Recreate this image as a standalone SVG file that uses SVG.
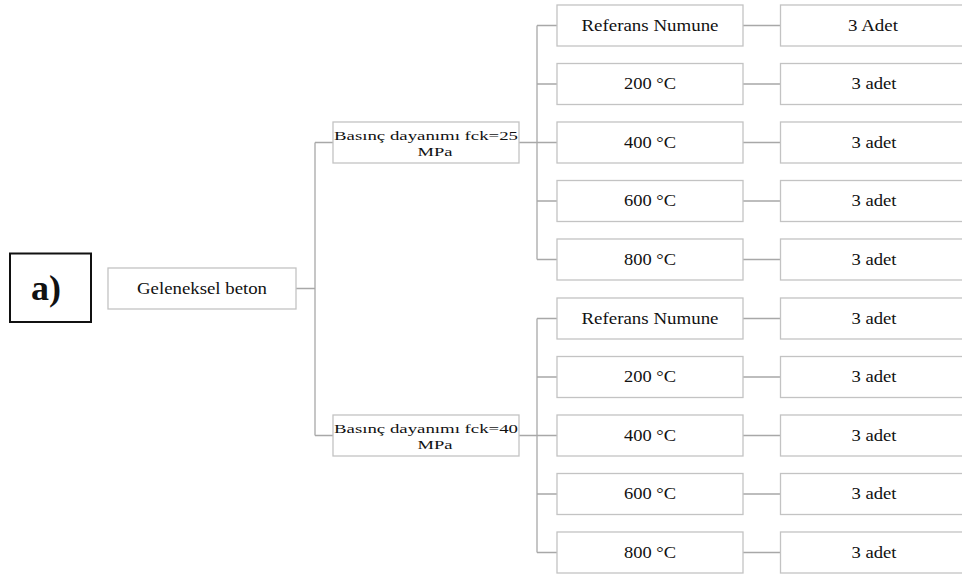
<svg xmlns="http://www.w3.org/2000/svg" width="962" height="576" viewBox="0 0 962 576">
<style>
.box{fill:#fff;stroke:#c3c3c3;stroke-width:1.3}
.t{font-family:"Liberation Serif","Times New Roman",serif;font-size:16px;fill:#111;text-anchor:middle}
.s{font-size:13.5px}
.c{fill:none;stroke:#a8a8a8;stroke-width:1.3}
</style>
<rect width="962" height="576" fill="#fff"/>
<g id="label-a">
<rect x="10" y="253.5" width="81" height="68.5" fill="#fff" stroke="#111" stroke-width="2"/>
<text x="46" y="300" font-family="Liberation Serif,serif" font-weight="bold" font-size="36" text-anchor="middle" fill="#111">a)</text>
</g>
<g id="connectors">
<path class="c" d="M296 288.5H315M315 142.5V435.5M315 142.5H333M315 435.5H333"/>
<path class="c" d="M519 142.5H557M537 25.5V259.5M537 25.5H557M537 84H557M537 201H557M537 259.5H557"/>
<path class="c" d="M519 435.5H557M537 318.5V552.5M537 318.5H557M537 377H557M537 494H557M537 552.5H557"/>
<path class="c" d="M743 25.5H780M743 84H780M743 142.5H780M743 201H780M743 259.5H780M743 318.5H780M743 377H780M743 435.5H780M743 494H780M743 552.5H780"/>
</g>
<g id="n-geleneksel"><rect class="box" x="108" y="268" width="188" height="41"/><text class="t" x="202" y="293.5" textLength="130" lengthAdjust="spacingAndGlyphs">Geleneksel beton</text></g>
<g id="n-fck25"><rect class="box" x="333" y="122" width="186" height="41"/><text class="t s" x="426" y="139.5" textLength="184" lengthAdjust="spacingAndGlyphs">Basınç dayanımı fck=25</text><text class="t s" x="435" y="155.5" textLength="35" lengthAdjust="spacingAndGlyphs">MPa</text></g>
<g id="n-fck40"><rect class="box" x="333" y="415" width="186" height="41"/><text class="t s" x="426" y="432.5" textLength="184" lengthAdjust="spacingAndGlyphs">Basınç dayanımı fck=40</text><text class="t s" x="435" y="448.5" textLength="35" lengthAdjust="spacingAndGlyphs">MPa</text></g>
<g id="n-a-ref"><rect class="box" x="557" y="5" width="186" height="41"/><text class="t" x="650" y="30.5" textLength="137" lengthAdjust="spacingAndGlyphs">Referans Numune</text></g>
<g id="n-a-200"><rect class="box" x="557" y="63.5" width="186" height="41"/><text class="t" x="650" y="89" textLength="52" lengthAdjust="spacingAndGlyphs">200 °C</text></g>
<g id="n-a-400"><rect class="box" x="557" y="122" width="186" height="41"/><text class="t" x="650" y="147.5" textLength="52" lengthAdjust="spacingAndGlyphs">400 °C</text></g>
<g id="n-a-600"><rect class="box" x="557" y="180.5" width="186" height="41"/><text class="t" x="650" y="206" textLength="52" lengthAdjust="spacingAndGlyphs">600 °C</text></g>
<g id="n-a-800"><rect class="box" x="557" y="239" width="186" height="41"/><text class="t" x="650" y="264.5" textLength="52" lengthAdjust="spacingAndGlyphs">800 °C</text></g>
<g id="n-b-ref"><rect class="box" x="557" y="298" width="186" height="41"/><text class="t" x="650" y="323.5" textLength="137" lengthAdjust="spacingAndGlyphs">Referans Numune</text></g>
<g id="n-b-200"><rect class="box" x="557" y="356.5" width="186" height="41"/><text class="t" x="650" y="382" textLength="52" lengthAdjust="spacingAndGlyphs">200 °C</text></g>
<g id="n-b-400"><rect class="box" x="557" y="415" width="186" height="41"/><text class="t" x="650" y="440.5" textLength="52" lengthAdjust="spacingAndGlyphs">400 °C</text></g>
<g id="n-b-600"><rect class="box" x="557" y="473.5" width="186" height="41"/><text class="t" x="650" y="499" textLength="52" lengthAdjust="spacingAndGlyphs">600 °C</text></g>
<g id="n-b-800"><rect class="box" x="557" y="532" width="186" height="41"/><text class="t" x="650" y="557.5" textLength="52" lengthAdjust="spacingAndGlyphs">800 °C</text></g>
<g id="c-a-ref"><rect class="box" x="780.5" y="5" width="186" height="41"/><text class="t" x="873" y="30.5" textLength="50" lengthAdjust="spacingAndGlyphs">3 Adet</text></g>
<g id="c-a-200"><rect class="box" x="780.5" y="63.5" width="186" height="41"/><text class="t" x="874" y="89" textLength="45" lengthAdjust="spacingAndGlyphs">3 adet</text></g>
<g id="c-a-400"><rect class="box" x="780.5" y="122" width="186" height="41"/><text class="t" x="874" y="147.5" textLength="45" lengthAdjust="spacingAndGlyphs">3 adet</text></g>
<g id="c-a-600"><rect class="box" x="780.5" y="180.5" width="186" height="41"/><text class="t" x="874" y="206" textLength="45" lengthAdjust="spacingAndGlyphs">3 adet</text></g>
<g id="c-a-800"><rect class="box" x="780.5" y="239" width="186" height="41"/><text class="t" x="874" y="264.5" textLength="45" lengthAdjust="spacingAndGlyphs">3 adet</text></g>
<g id="c-b-ref"><rect class="box" x="780.5" y="298" width="186" height="41"/><text class="t" x="874" y="323.5" textLength="45" lengthAdjust="spacingAndGlyphs">3 adet</text></g>
<g id="c-b-200"><rect class="box" x="780.5" y="356.5" width="186" height="41"/><text class="t" x="874" y="382" textLength="45" lengthAdjust="spacingAndGlyphs">3 adet</text></g>
<g id="c-b-400"><rect class="box" x="780.5" y="415" width="186" height="41"/><text class="t" x="874" y="440.5" textLength="45" lengthAdjust="spacingAndGlyphs">3 adet</text></g>
<g id="c-b-600"><rect class="box" x="780.5" y="473.5" width="186" height="41"/><text class="t" x="874" y="499" textLength="45" lengthAdjust="spacingAndGlyphs">3 adet</text></g>
<g id="c-b-800"><rect class="box" x="780.5" y="532" width="186" height="41"/><text class="t" x="874" y="557.5" textLength="45" lengthAdjust="spacingAndGlyphs">3 adet</text></g>
</svg>
